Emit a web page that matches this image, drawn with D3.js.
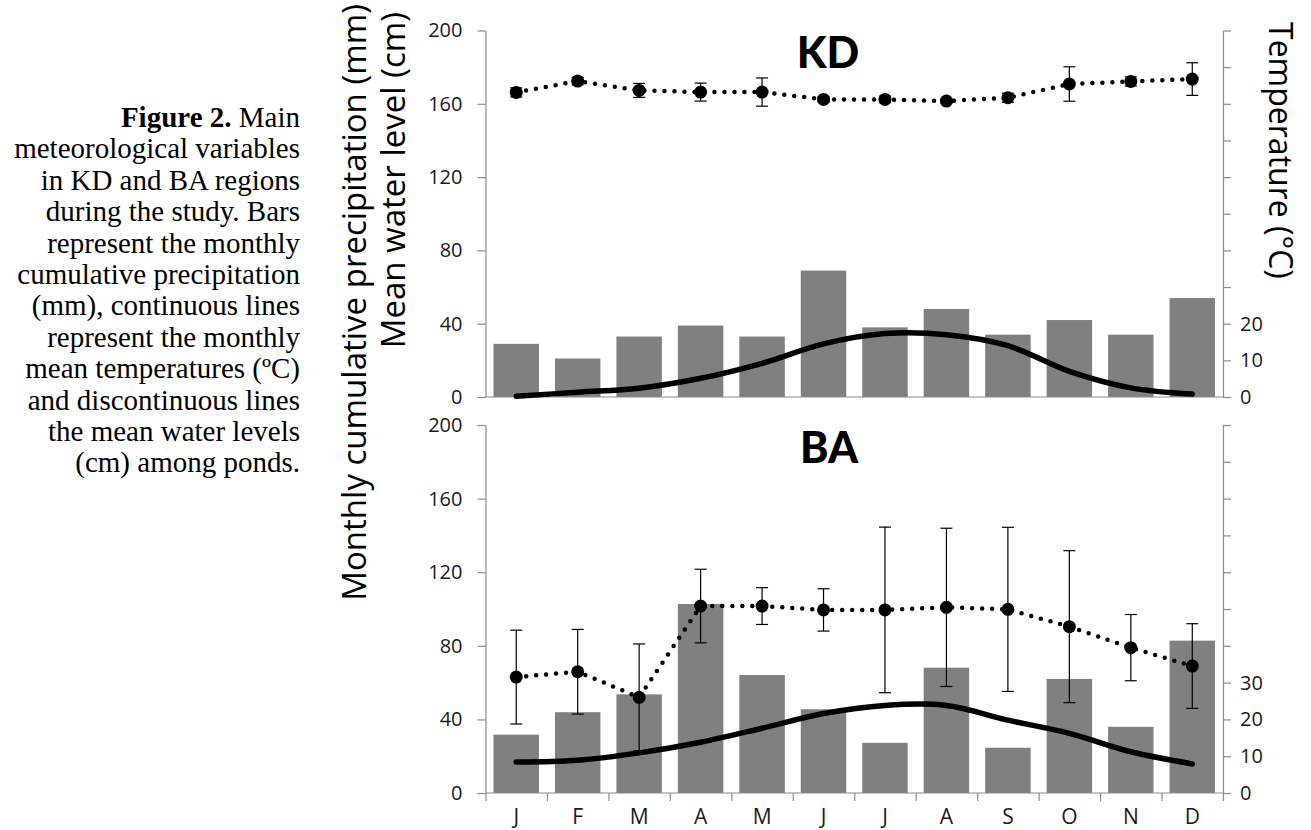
<!DOCTYPE html>
<html>
<head>
<meta charset="utf-8">
<script src="https://cdn.jsdelivr.net/npm/d3@7"></script>
<style>
  html, body { margin: 0; padding: 0; background: #fff; }
  svg { display: block; }
</style>
</head>
<body>
<svg id="chart" width="1311" height="830"></svg>
<script>
// Month initials along the category axis
const months = ["J", "F", "M", "A", "M", "J", "J", "A", "S", "O", "N", "D"];

// KD region
const kdPrecip = [29, 21, 33, 39, 33, 69, 38, 48, 34, 42, 34, 54];          // mm
const kdTemp = [0.2, 1.3, 2.4, 5.1, 9.2, 14.5, 17.3, 17.0, 14.0, 7.0, 2.5, 0.8]; // °C
const kdWater = [166.2, 172.4, 167.3, 166.4, 166.4, 162.4, 162.4, 161.5, 163.3, 170.8, 172.2, 173.5]; // cm
const kdWaterErr = [2.5, 2, 3.8, 4.9, 7.7, 1.5, 1.8, 1.2, 2.5, 9.4, 2.5, 8.9];

// BA region
const baPrecip = [31.7, 43.9, 53.6, 102.7, 64.1, 45.5, 27.3, 68.1, 24.6, 62, 36, 82.8];
const baTemp = [8.4, 8.9, 10.9, 13.8, 17.6, 21.6, 23.8, 23.8, 19.8, 16.2, 11.2, 7.9];
const baWater = [63, 65.9, 52, 101.6, 101.6, 99.5, 99.5, 100.9, 99.8, 90.4, 79, 69];
const baWaterErr = [25.5, 23, 29, 20, 10, 11.5, 45, 43, 44.6, 41.3, 18, 23];

// Axis ticks
const leftTicks = [0, 40, 80, 120, 160, 200];
const rightTicks = d3.range(0, 101, 10);
const kdTempLabels = [0, 10, 20];
const baTempLabels = [0, 10, 20, 30];

// Caption beside the chart
const captionLines = [
  ["Figure 2.", " Main"],
  ["", "meteorological variables"],
  ["", "in KD and BA regions"],
  ["", "during the study. Bars"],
  ["", "represent the monthly"],
  ["", "cumulative precipitation"],
  ["", "(mm), continuous lines"],
  ["", "represent the monthly"],
  ["", "mean temperatures (ºC)"],
  ["", "and discontinuous lines"],
  ["", "the mean water levels"],
  ["", "(cm) among ponds."]
];

const svg = d3.select("#chart");
const FONT = "'Open Sans', 'DejaVu Sans', sans-serif";
const AXIS_GREY = "#8c8c8c";
const BAR_GREY = "#808080";

const plotLeft = 485.5, plotRight = 1223;
const x = d3.scaleBand()
  .domain(d3.range(12))
  .range([plotLeft, plotRight])
  .paddingInner(0.26)
  .paddingOuter(0.13);
const xEdges = d3.scaleLinear().domain([0, 12]).range([plotLeft, plotRight]);
const cx = i => x(i) + x.bandwidth() / 2;

function styleAxis(g) {
  g.select(".domain").attr("stroke", AXIS_GREY).attr("stroke-width", 1.2);
  g.selectAll(".tick line").attr("stroke", AXIS_GREY).attr("stroke-width", 1.2);
  g.selectAll(".tick text").attr("fill", "#1a1a1a")
    .style("font-family", FONT).style("font-size", "20px");
}

function drawPanel(cfg) {
  const y = d3.scaleLinear().domain([0, 200]).range([cfg.bottom, cfg.top]);
  const yT = d3.scaleLinear().domain([0, 100]).range([cfg.bottom, cfg.top]);
  const g = svg.append("g");

  // precipitation bars
  g.append("g").selectAll("rect").data(cfg.precip).join("rect")
    .attr("x", (d, i) => x(i))
    .attr("width", x.bandwidth())
    .attr("y", d => y(d))
    .attr("height", d => y(0) - y(d))
    .attr("fill", BAR_GREY);

  // baseline of the category axis
  g.append("line")
    .attr("x1", plotLeft).attr("x2", plotRight)
    .attr("y1", y(0)).attr("y2", y(0))
    .attr("stroke", AXIS_GREY).attr("stroke-width", 1.2);

  // left axis (precipitation / water level)
  g.append("g")
    .attr("transform", `translate(${plotLeft},0)`)
    .call(d3.axisLeft(y).tickValues(leftTicks).tickSize(8).tickPadding(15).tickSizeOuter(0))
    .call(styleAxis);

  // right axis (temperature)
  g.append("g")
    .attr("transform", `translate(${plotRight},0)`)
    .call(d3.axisRight(yT).tickValues(rightTicks).tickSize(8).tickPadding(9).tickSizeOuter(0)
      .tickFormat(d => cfg.tempLabels.includes(d) ? d : ""))
    .call(styleAxis);

  // mean temperature, smooth solid line
  const tempLine = d3.line()
    .x((d, i) => cx(i))
    .y(d => yT(d))
    .curve(d3.curveCatmullRom.alpha(0.5));
  g.append("path")
    .datum(cfg.temp)
    .attr("d", tempLine)
    .attr("fill", "none")
    .attr("stroke", "#000")
    .attr("stroke-width", 5.5)
    .attr("stroke-linecap", "round")
    .attr("stroke-linejoin", "round");

  // error bars of mean water level
  const eb = g.append("g").attr("stroke", "#000").attr("stroke-width", 1.2);
  cfg.water.forEach((v, i) => {
    const e = cfg.waterErr[i];
    eb.append("line").attr("x1", cx(i)).attr("x2", cx(i)).attr("y1", y(v - e)).attr("y2", y(v + e));
    eb.append("line").attr("x1", cx(i) - 6).attr("x2", cx(i) + 6).attr("y1", y(v - e)).attr("y2", y(v - e));
    eb.append("line").attr("x1", cx(i) - 6).attr("x2", cx(i) + 6).attr("y1", y(v + e)).attr("y2", y(v + e));
  });

  // mean water level, dotted line with markers
  const waterLine = d3.line().x((d, i) => cx(i)).y(d => y(d));
  g.append("path")
    .datum(cfg.water)
    .attr("d", waterLine)
    .attr("fill", "none")
    .attr("stroke", "#000")
    .attr("stroke-width", 4.5)
    .attr("stroke-linecap", "round")
    .attr("stroke-dasharray", "0 10");
  g.append("g").selectAll("circle").data(cfg.water).join("circle")
    .attr("cx", (d, i) => cx(i))
    .attr("cy", d => y(d))
    .attr("r", 6.5)
    .attr("fill", "#000");

  // region title
  g.append("text")
    .attr("x", cfg.titleX).attr("y", cfg.titleY)
    .attr("text-anchor", "middle")
    .style("font-family", "Lato, 'Open Sans', sans-serif")
    .style("font-weight", "900")
    .style("font-size", "43px")
    .attr("fill", "#000")
    .text(cfg.title);

  return y;
}

drawPanel({
  top: 30.5, bottom: 397,
  precip: kdPrecip, temp: kdTemp, water: kdWater, waterErr: kdWaterErr,
  tempLabels: kdTempLabels, title: "KD", titleX: 828, titleY: 68
});
const yBA = drawPanel({
  top: 425, bottom: 793,
  precip: baPrecip, temp: baTemp, water: baWater, waterErr: baWaterErr,
  tempLabels: baTempLabels, title: "BA", titleX: 829, titleY: 463
});

// month ticks between categories and month labels under the lower panel
svg.append("g")
  .attr("transform", `translate(0,${yBA(0)})`)
  .call(d3.axisBottom(xEdges).tickValues(d3.range(0, 13)).tickSize(8).tickFormat(""))
  .call(g => g.select(".domain").remove())
  .call(styleAxis);
svg.append("g")
  .attr("transform", `translate(0,${yBA(0)})`)
  .call(d3.axisBottom(x).tickSize(0).tickPadding(16).tickFormat(i => months[i]))
  .call(g => g.select(".domain").remove())
  .call(styleAxis)
  .call(g => g.selectAll(".tick text").style("font-size", "21px"));

// axis titles
const titleStyle = (t, size) => t.style("font-family", FONT).style("font-size", size + "px").attr("fill", "#000");
svg.append("text")
  .attr("transform", "translate(366,4) rotate(-90)")
  .attr("text-anchor", "end")
  .call(titleStyle, 33)
  .text("Monthly cumulative precipitation  (mm)");
svg.append("text")
  .attr("transform", "translate(405,12) rotate(-90)")
  .attr("text-anchor", "end")
  .call(titleStyle, 33)
  .text("Mean water level  (cm)");
svg.append("text")
  .attr("transform", "translate(1269,22) rotate(90)")
  .attr("text-anchor", "start")
  .call(titleStyle, 32)
  .text("Temperature  (°C)");

// caption
const cap = svg.append("text")
  .attr("text-anchor", "end")
  .style("font-family", "'Liberation Serif', 'Times New Roman', serif")
  .style("font-size", "29px")
  .attr("fill", "#000");
captionLines.forEach((ln, i) => {
  const y = 127 + i * 31.4;
  if (ln[0]) {
    cap.append("tspan").attr("x", 300).attr("y", y).style("font-weight", "bold").text(ln[0])
      .append("tspan").style("font-weight", "normal").text(ln[1]);
  } else {
    cap.append("tspan").attr("x", 300).attr("y", y).text(ln[1]);
  }
});
</script>
</body>
</html>
